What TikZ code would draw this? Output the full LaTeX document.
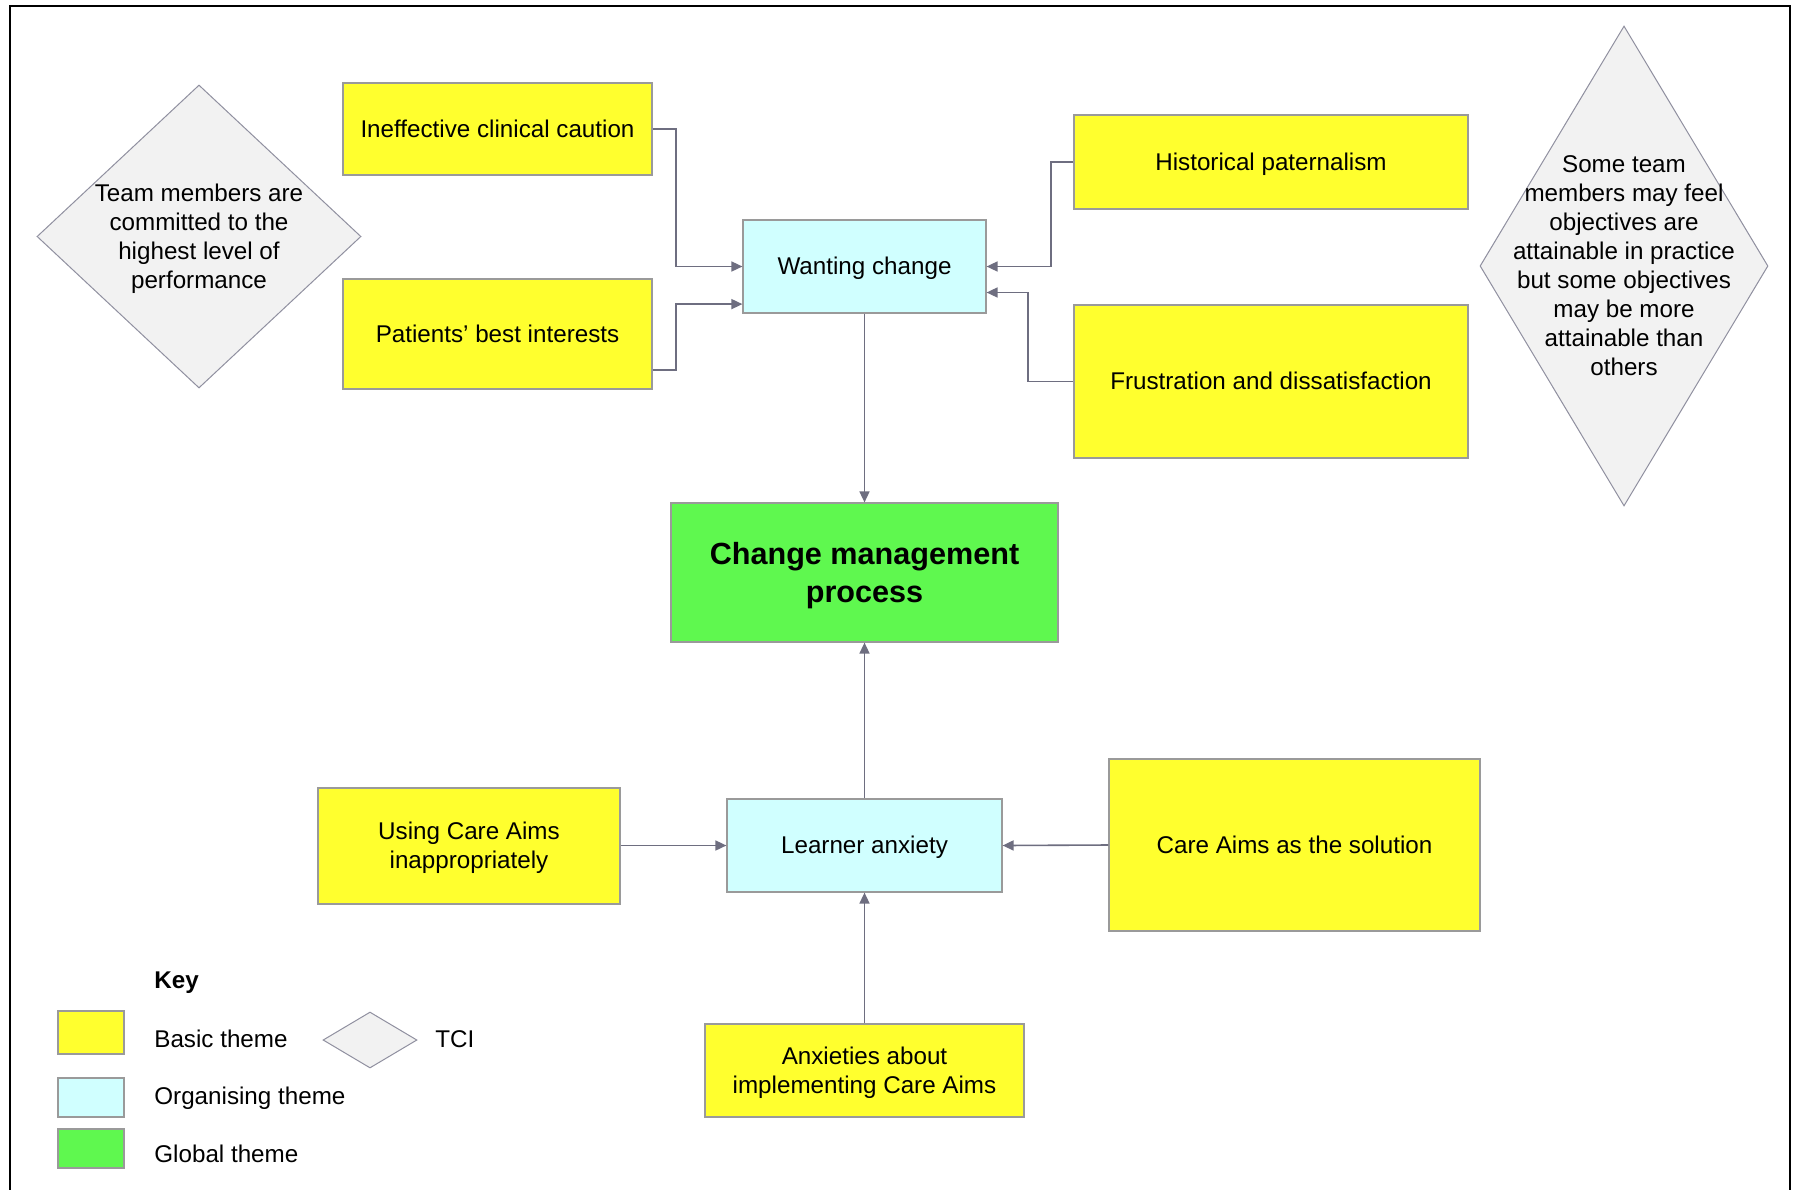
\documentclass[tikz,border=0pt]{standalone}
\usepackage{fontspec}
\setmainfont{Liberation Sans}
\usetikzlibrary{shapes.geometric,arrows.meta}
\definecolor{basicfill}{HTML}{FFFF2E}
\definecolor{orgfill}{HTML}{D0FFFF}
\definecolor{globfill}{HTML}{5FF84F}
\definecolor{tcifill}{HTML}{F2F2F2}
\definecolor{boxline}{HTML}{9A9A9A}
\definecolor{tciline}{HTML}{9090A0}
\definecolor{connline}{HTML}{6E6E80}
% strut with the font's full ascent and descent, so text is centred like in a word processor
\newcommand\fullstrut{\rule[-0.212em]{0pt}{1.117em}}
\begin{document}
\begin{tikzpicture}[x=0.5pt,y=-0.5pt,
  font=\fontsize{12.1}{14.5}\selectfont,
  themebox/.style={draw=boxline, line width=0.6pt, inner sep=0pt, align=center},
  basic/.style={themebox, fill=basicfill},
  organising/.style={themebox, fill=orgfill},
  global/.style={themebox, fill=globfill},
  tci/.style={diamond, draw=tciline, fill=tcifill, line width=0.5pt, inner sep=0pt},
  tcitext/.style={align=center, inner sep=0pt},
  conn/.style={draw=connline, line width=0.8pt, -{Triangle[length=5.5pt,width=5pt]}},
  keytext/.style={anchor=base west, inner sep=0pt}]
\useasboundingbox (0,0) rectangle (1798,1189);
\clip (0,0) rectangle (1798,1189);
\fill[white] (0,0) rectangle (1798,1189);
% outer frame, open at the bottom edge of the page
\draw[line width=1.3pt] (10,1220) -- (10,6) -- (1790,6) -- (1790,1220);

% TCI diamonds
\node[tci, minimum width=162pt, minimum height=151.5pt] (tciL) at (199,236.5) {};
\node[tcitext] (tciLtext) at (tciL.center) {\fullstrut Team members are\\committed to the\\highest level of\\performance\fullstrut};
\node[tci, minimum width=144pt, minimum height=240pt] (tciR) at (1624,266) {};
\node[tcitext] (tciRtext) at (tciR.center) {\fullstrut Some team\\members may feel\\objectives are\\attainable in practice\\but some objectives\\may be more\\attainable than\\others\fullstrut};

% basic themes
\node[basic, minimum width=154.5pt, minimum height=46pt] (ineff) at (497.5,129) {\fullstrut Ineffective clinical caution};
\node[basic, minimum width=154.5pt, minimum height=55pt] (pat) at (497.5,334) {\fullstrut Patients’ best interests};
\node[basic, minimum width=197pt, minimum height=47pt] (hist) at (1271,162) {\fullstrut Historical paternalism};
\node[basic, minimum width=197pt, minimum height=76.5pt] (frus) at (1271,381.5) {\fullstrut Frustration and dissatisfaction};
\node[basic, minimum width=151pt, minimum height=58pt] (using) at (469,846) {\fullstrut Using Care Aims\\inappropriately\fullstrut};
\node[basic, minimum width=185.5pt, minimum height=86pt] (sol) at (1294.5,845) {\fullstrut Care Aims as the solution};
\node[basic, minimum width=159.5pt, minimum height=46.5pt] (anx) at (864.5,1070.5) {\fullstrut Anxieties about\\implementing Care Aims\fullstrut};

% organising themes
\node[organising, minimum width=121.5pt, minimum height=46.5pt] (want) at (864.5,266.5) {\fullstrut Wanting change};
\node[organising, minimum width=137.5pt, minimum height=46.5pt] (learn) at (864.5,845.5) {\fullstrut Learner anxiety};

% global theme
\node[global, minimum width=193.5pt, minimum height=69.5pt, font=\bfseries\fontsize{15.3}{18.9}\selectfont] (cm) at (864.5,572.5) {\fullstrut Change management\\process\fullstrut};

% junction columns for the elbow connectors
\coordinate (colL) at (676,0);
\coordinate (colR1) at (1051,0);
\coordinate (colR2) at (1028,0);
% offset ports on the boxes
\coordinate (patOut) at ([yshift=-18pt]pat.east);
\coordinate (wantInL) at ([yshift=-18.8pt]want.west);
\coordinate (wantInR) at ([yshift=-13pt]want.east);

% connectors into "Wanting change"
\draw[conn] (ineff.east) -| (colL |- want.west) -- (want.west);
\draw[conn] (patOut) -| (colL |- wantInL) -- (wantInL);
\draw[conn] (hist.west) -| (colR1 |- want.east) -- (want.east);
\draw[conn] (frus.west) -| (colR2 |- wantInR) -- (wantInR);

% organising to global
\draw[conn] (want.south) -- (cm.north);
\draw[conn] (learn.north) -- (cm.south);

% connectors into "Learner anxiety"
\draw[conn] (using.east |- learn.west) -- (learn.west);
\draw[conn] (sol.west) -- (learn.east);
\draw[conn] (anx.north) -- (learn.south);

% key
\node[keytext, font=\bfseries\fontsize{12.1}{14.5}\selectfont] (keytitle) at (154,988) {Key};
\node[basic, minimum width=33pt, minimum height=21.5pt] (kbasic) at (91,1032.5) {};
\node[keytext] (kbasictext) at (154,1047) {Basic theme};
\node[organising, minimum width=33pt, minimum height=19.5pt] (korg) at (91,1097.5) {};
\node[keytext] (korgtext) at (154,1104) {Organising theme};
\node[global, minimum width=33pt, minimum height=19.5pt] (kglob) at (91,1148.5) {};
\node[keytext] (kglobtext) at (154,1162) {Global theme};
\node[tci, minimum width=47pt, minimum height=28pt] (ktci) at (370,1040) {};
\node[keytext] (ktcitext) at (435,1047) {TCI};
\end{tikzpicture}
\end{document}
